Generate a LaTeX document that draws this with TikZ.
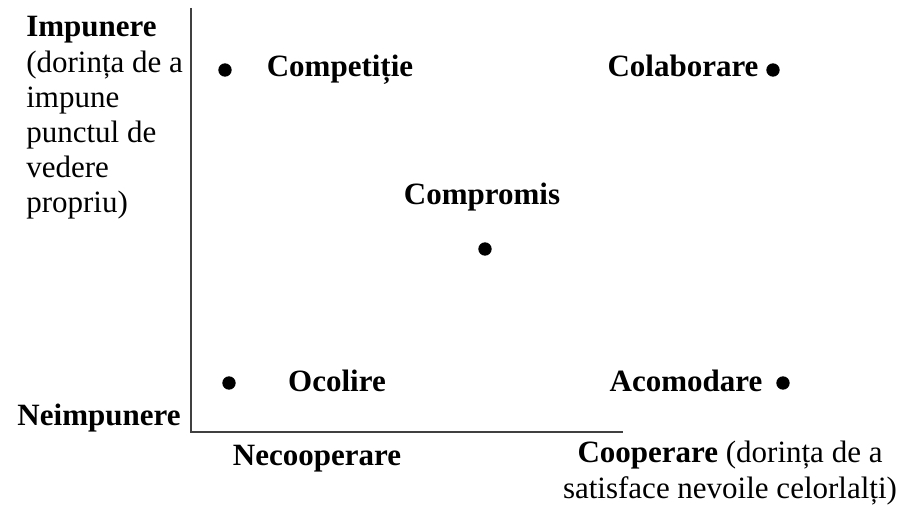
\documentclass[tikz,border=0pt]{standalone}
\usepackage{fontspec}
\setmainfont{Liberation Serif}
\begin{document}
\begin{tikzpicture}[x=0.75pt,y=-0.75pt,
  lbl/.style={inner sep=0pt,anchor=base,font=\fontsize{23.25}{26.4}\selectfont\bfseries},
  txt/.style={inner sep=0pt,font=\fontsize{23.25}{26.4}\selectfont},
  dot/.style={circle,fill=black,inner sep=0pt,minimum size=10pt},
  axis/.style={draw=black!75,line width=1.4pt}]
\useasboundingbox (0,0) rectangle (904,506);
\coordinate (top) at (191,8);
\coordinate (org) at (191,432);
\coordinate (right) at (623,432);
\draw[axis] (top) -- (org) -- (right);
% dots
\node[dot] (d1) at (225,70) {};
\node[dot] (d2) at (773,70) {};
\node[dot] (d3) at (485,249) {};
\node[dot] (d4) at (229,383) {};
\node[dot] (d5) at (783,383) {};
% labels
\node[lbl] (comp) at (340,77) {Competiție};
\node[lbl] (cola) at (683,77) {Colaborare};
\node[lbl] (compr) at (482,205) {Compromis};
\node[lbl] (ocol) at (337,391) {Ocolire};
\node[lbl] (acom) at (686,391) {Acomodare};
\node[lbl] (necoop) at (317,465) {Necooperare};
\node[lbl] (neimp) at (99,425) {Neimpunere};
\node[txt,anchor=base west,align=left] (imp) at (26,213) {\textbf{Impunere}\\(dorința de a\\impune\\punctul de\\vedere\\propriu)};
\node[txt,anchor=base,align=center] (coop) at (730,498) {\textbf{Cooperare} (dorința de a\\satisface nevoile celorlalți)};
\end{tikzpicture}
\end{document}
